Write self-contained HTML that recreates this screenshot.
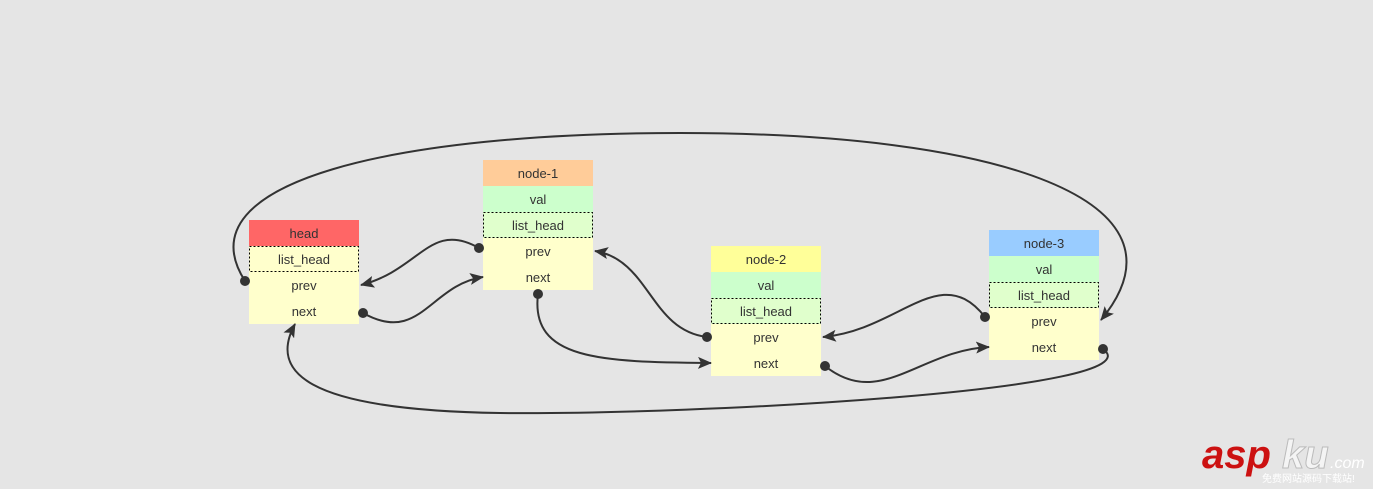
<!DOCTYPE html>
<html><head><meta charset="utf-8"><style>
html,body{margin:0;padding:0;background:#e5e5e5;width:1373px;height:489px;overflow:hidden}
svg text{font-family:"Liberation Sans","DejaVu Sans",sans-serif;font-size:13px;fill:#333}
</style></head><body>
<svg width="1373" height="489" viewBox="0 0 1373 489" xmlns="http://www.w3.org/2000/svg">
<defs>
<marker id="a" viewBox="0 0 14 12" refX="13" refY="6" markerWidth="14" markerHeight="12" markerUnits="userSpaceOnUse" orient="auto">
<path d="M0,0 L14,6 L0,12 L3,6 z" fill="#333"/></marker>
</defs>
<rect width="1373" height="489" fill="#e5e5e5"/>
<g>
<rect x="249" y="220" width="110" height="26" fill="#ff6666"/>
<rect x="249" y="246" width="110" height="78" fill="#ffffcc"/>
<rect x="249.5" y="246.5" width="109" height="25" fill="none" stroke="#000" stroke-dasharray="2,2"/>
<text x="304" y="238" text-anchor="middle">head</text>
<text x="304" y="264" text-anchor="middle">list_head</text>
<text x="304" y="290" text-anchor="middle">prev</text>
<text x="304" y="316" text-anchor="middle">next</text>
</g>
<g>
<rect x="483" y="160" width="110" height="26" fill="#ffcc99"/>
<rect x="483" y="186" width="110" height="26" fill="#ccffcc"/>
<rect x="483" y="212" width="110" height="26" fill="#e0ffcc"/>
<rect x="483" y="238" width="110" height="52" fill="#ffffcc"/>
<rect x="483.5" y="212.5" width="109" height="25" fill="none" stroke="#000" stroke-dasharray="2,2"/>
<text x="538" y="178" text-anchor="middle">node-1</text>
<text x="538" y="204" text-anchor="middle">val</text>
<text x="538" y="230" text-anchor="middle">list_head</text>
<text x="538" y="256" text-anchor="middle">prev</text>
<text x="538" y="282" text-anchor="middle">next</text>
</g>
<g>
<rect x="711" y="246" width="110" height="26" fill="#ffff99"/>
<rect x="711" y="272" width="110" height="26" fill="#ccffcc"/>
<rect x="711" y="298" width="110" height="26" fill="#e0ffcc"/>
<rect x="711" y="324" width="110" height="52" fill="#ffffcc"/>
<rect x="711.5" y="298.5" width="109" height="25" fill="none" stroke="#000" stroke-dasharray="2,2"/>
<text x="766" y="264" text-anchor="middle">node-2</text>
<text x="766" y="290" text-anchor="middle">val</text>
<text x="766" y="316" text-anchor="middle">list_head</text>
<text x="766" y="342" text-anchor="middle">prev</text>
<text x="766" y="368" text-anchor="middle">next</text>
</g>
<g>
<rect x="989" y="230" width="110" height="26" fill="#99ccff"/>
<rect x="989" y="256" width="110" height="26" fill="#ccffcc"/>
<rect x="989" y="282" width="110" height="26" fill="#e0ffcc"/>
<rect x="989" y="308" width="110" height="52" fill="#ffffcc"/>
<rect x="989.5" y="282.5" width="109" height="25" fill="none" stroke="#000" stroke-dasharray="2,2"/>
<text x="1044" y="248" text-anchor="middle">node-3</text>
<text x="1044" y="274" text-anchor="middle">val</text>
<text x="1044" y="300" text-anchor="middle">list_head</text>
<text x="1044" y="326" text-anchor="middle">prev</text>
<text x="1044" y="352" text-anchor="middle">next</text>
</g>
<g fill="none" stroke="#333" stroke-width="2">
<path d="M245,281 C180,180 400,133 680,133 C1000,133 1200,200 1101,320" marker-end="url(#a)"/>
<path d="M479,248 C430,220 420,270 361,285" marker-end="url(#a)"/>
<path d="M363,313 C420,345 430,285 483,277" marker-end="url(#a)"/>
<path d="M538,294 C530,360 600,362 711,363" marker-end="url(#a)"/>
<path d="M707,337 C650,330 650,260 595,251" marker-end="url(#a)"/>
<path d="M985,317 C940,260 900,330 823,337" marker-end="url(#a)"/>
<path d="M825,366 C880,410 920,350 989,347" marker-end="url(#a)"/>
<path d="M1103,349 C1160,390 700,415 500,413 C300,410 270,370 295,324" marker-end="url(#a)"/>
</g>
<g fill="#333">
<circle cx="245" cy="281" r="5"/><circle cx="479" cy="248" r="5"/><circle cx="363" cy="313" r="5"/>
<circle cx="538" cy="294" r="5"/><circle cx="707" cy="337" r="5"/><circle cx="985" cy="317" r="5"/>
<circle cx="825" cy="366" r="5"/><circle cx="1103" cy="349" r="5"/>
</g>
<text x="1202" y="468" style="font-size:40px;font-weight:bold;font-style:italic;fill:#cc1111">asp</text>
<text x="1282" y="468" style="font-size:40px;font-weight:bold;font-style:italic;fill:#f4f4f4;stroke:#bbb;stroke-width:1">ku</text>
<text x="1330" y="468" style="font-size:16px;font-style:italic;fill:#fff">.com</text>
<text x="1262" y="482" style="font-size:10px;fill:#fff;font-family:'Liberation Sans','Noto Sans CJK SC',sans-serif">免费网站源码下载站!</text>
</svg>
</body></html>
